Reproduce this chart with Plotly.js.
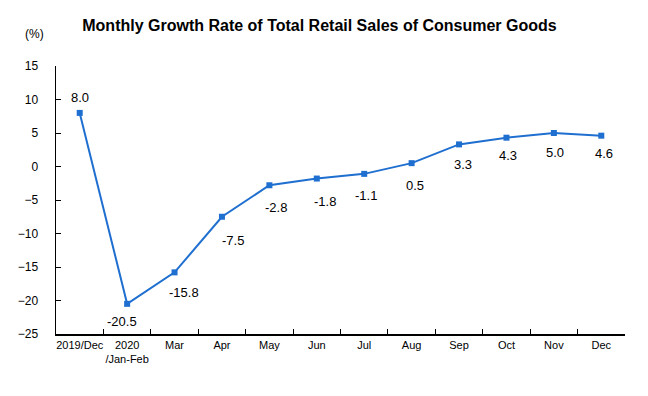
<!DOCTYPE html>
<html><head><meta charset="utf-8">
<script src="https://cdn.plot.ly/plotly-3.0.1.min.js"></script>
<style>body{margin:0;}#c{width:648px;height:396px;}</style>
</head><body><div id="c"></div>
<script>
const categories = ["2019/Dec","2020<br>/Jan-Feb","Mar","Apr","May","Jun","Jul","Aug","Sep","Oct","Nov","Dec"];
const growth = [8.0,-20.5,-15.8,-7.5,-2.8,-1.8,-1.1,0.5,3.3,4.3,5.0,4.6];
const yTicks = [15,10,5,0,-5,-10,-15,-20,-25];
// label offsets (style only)
const labelDx = [0,-5,9,11,7,8,2,3,4,2,1,3];
const labelDy = [15,-18,-20,-24,-22,-23,-22,-22,-20,-18,-19,-18];

const font = "Liberation Sans, Arial, sans-serif";
const trace = {
  x: categories, y: growth, type: "scatter", mode: "lines+markers",
  line: {color: "#1f6fd0", width: 2},
  marker: {symbol: "square", size: 6, color: "#1f6fd0"},
  cliponaxis: false, hoverinfo: "none"
};
const annotations = growth.map((v, i) => ({
  x: categories[i], y: v, xref: "x", yref: "y", text: v.toFixed(1), showarrow: false,
  xshift: labelDx[i], yshift: labelDy[i], xanchor: "center", yanchor: "middle",
  font: {family: font, size: 13, color: "#000"}
}));
annotations.push({text: "(%)", xref: "paper", yref: "paper", x: -0.037, y: 1.12, xanchor: "center", yanchor: "middle", showarrow: false,
  font: {family: font, size: 12, color: "#000"}});
const layout = {
  width: 648, height: 396,
  margin: {l: 56, r: 23, t: 66, b: 62},
  paper_bgcolor: "#fff", plot_bgcolor: "#fff",
  showlegend: false,
  title: {text: "<b>Monthly Growth Rate of Total Retail Sales of Consumer Goods</b>", x: 0.493, xanchor: "center", y: 0.937, yanchor: "middle",
    font: {family: font, size: 16, color: "#000"}},
  xaxis: {type: "category", tickson: "boundaries", ticks: "inside", ticklen: 5, tickcolor: "#000", tickangle: 0,
    showline: true, linecolor: "#000", linewidth: 1.5, showgrid: false, zeroline: false,
    tickfont: {family: font, size: 11, color: "#000"}, range: [-0.5, 11.5]},
  yaxis: {range: [-25, 15], tickvals: yTicks, ticks: "inside", ticklen: 5, tickcolor: "#000",
    showline: true, linecolor: "#000", linewidth: 1.5, showgrid: false, zeroline: false,
    tickfont: {family: font, size: 12, color: "#000"}, ticklabelstandoff: 14},
  annotations: annotations
};
Plotly.newPlot("c", [trace], layout, {displayModeBar: false, staticPlot: true});
</script></body></html>
